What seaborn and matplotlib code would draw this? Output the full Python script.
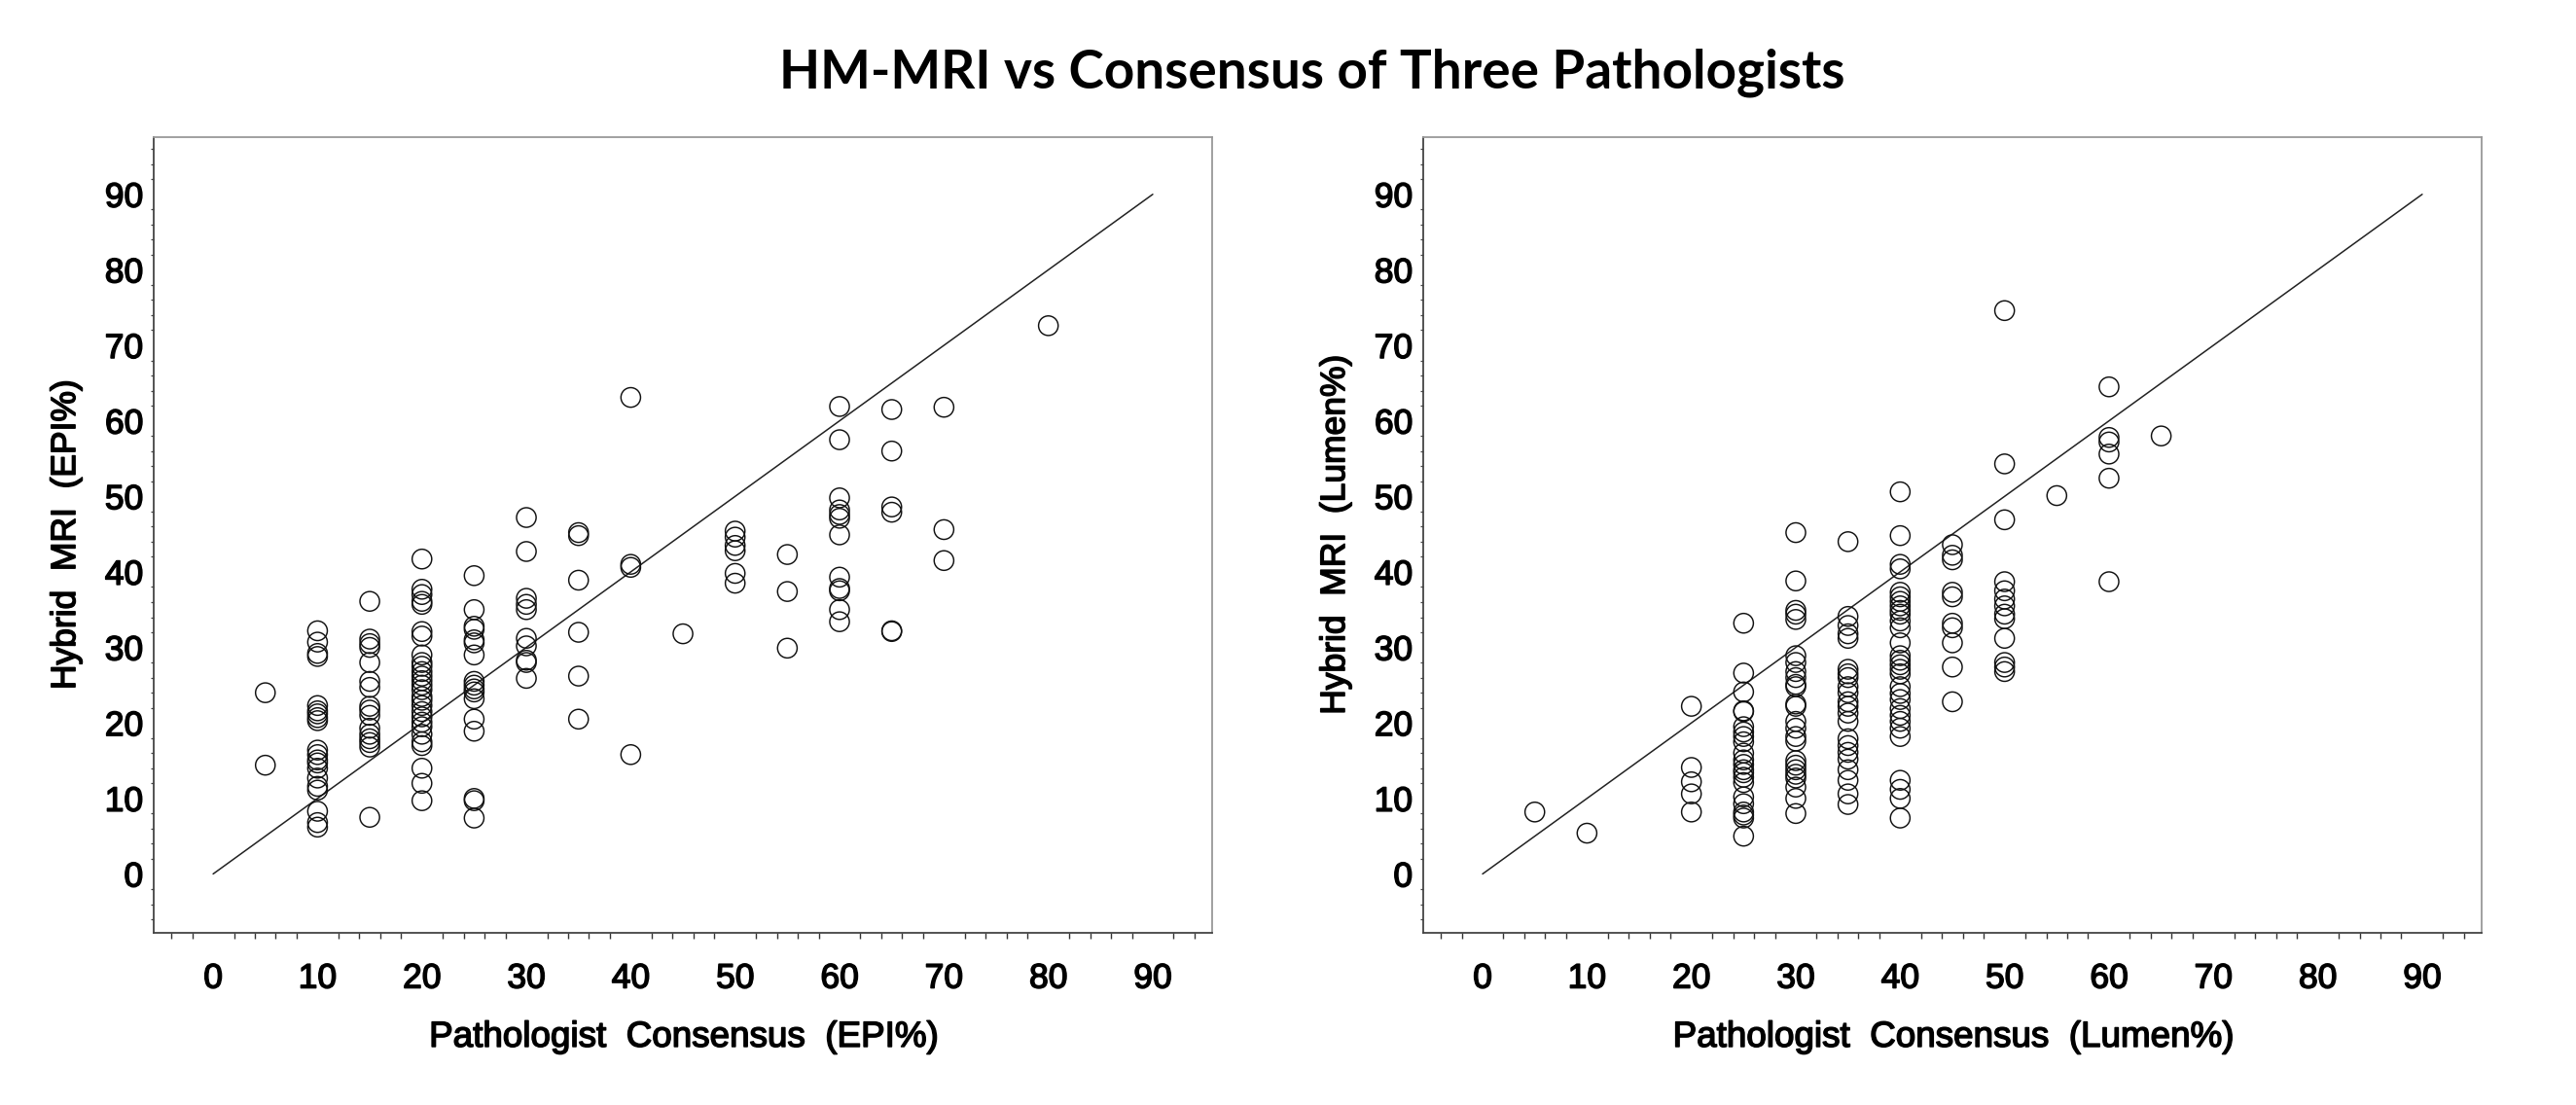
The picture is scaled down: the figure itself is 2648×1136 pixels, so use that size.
import numpy as np
import pandas as pd
import matplotlib
matplotlib.use('Agg')
import matplotlib.pyplot as plt
import matplotlib.patheffects as pe
from matplotlib.ticker import MultipleLocator
import seaborn as sns

# Left panel: pathologist consensus EPI% (x) vs hybrid MRI EPI% (y)
epi_path = ([5] * 2 + [10] * 20 + [15] * 16 + [20] * 28 + [25] * 17 + [30] * 10 + [35] * 6
            + [40] * 4 + [45] * 1 + [50] * 6 + [55] * 3 + [60] * 12 + [65] * 6 + [70] * 3 + [80] * 1)
epi_mri = [
    24.0, 14.4,
    32.2, 30.7, 29.2, 28.8, 22.3, 21.6, 21.2, 20.7, 20.3, 16.4, 15.8, 15.1, 14.7, 14.0, 12.7, 11.6, 11.1, 8.3, 6.8, 6.2,
    36.1, 31.1, 30.5, 30.0, 28.0, 25.5, 24.7, 22.2, 21.7, 21.0, 19.3, 18.5, 17.9, 17.4, 16.8, 7.5,
    41.7, 37.7, 37.0, 36.1, 35.7, 32.1, 31.5, 29.0, 28.0, 27.5, 26.8, 26.2, 25.6, 25.0, 24.4, 23.5, 23.0, 22.3,
    21.5, 20.8, 20.1, 19.5, 18.5, 17.5, 17.0, 14.0, 12.0, 9.7,
    39.5, 35.0, 32.8, 32.4, 31.0, 30.6, 29.0, 25.5, 25.0, 24.5, 24.1, 23.2, 20.5, 18.9, 10.0, 9.7, 7.4,
    47.2, 42.7, 36.5, 35.7, 35.0, 31.2, 30.2, 28.3, 28.0, 25.9,
    45.2, 44.8, 38.9, 32.0, 26.2, 20.5,
    63.1, 41.0, 40.6, 15.8,
    31.8,
    45.4, 44.6, 43.5, 42.8, 39.8, 38.5,
    42.3, 37.4, 29.9,
    61.9, 57.5, 49.8, 48.2, 47.6, 47.1, 44.9, 39.3, 37.8, 37.5, 35.0, 33.4,
    61.5, 56.0, 48.6, 47.9, 32.2, 32.1,
    61.8, 45.6, 41.5,
    72.6,
]

# Right panel: pathologist consensus Lumen% (x) vs hybrid MRI Lumen% (y)
lumen_path = ([5] * 1 + [10] * 1 + [20] * 5 + [25] * 22 + [30] * 25 + [35] * 22 + [40] * 30
              + [45] * 10 + [50] * 13 + [55] * 1 + [60] * 6 + [65] * 1)
lumen_mri = [
    8.2,
    5.4,
    22.2, 14.1, 12.2, 10.6, 8.2,
    33.2, 26.6, 24.1, 21.6, 21.5, 19.5, 18.8, 18.2, 17.5, 16.0, 15.1, 14.5, 13.8, 13.4, 12.8, 12.1, 10.2, 9.3,
    8.2, 7.8, 7.4, 5.0,
    45.2, 38.8, 34.9, 34.4, 33.7, 28.9, 28.0, 26.8, 26.0, 25.1, 24.8, 22.5, 22.2, 20.2, 19.3, 18.2, 17.6, 15.0,
    14.4, 13.8, 13.2, 12.7, 11.5, 10.0, 8.0,
    44.0, 34.1, 32.9, 31.8, 31.2, 27.1, 26.5, 26.0, 24.8, 24.0, 22.8, 22.2, 21.3, 20.2, 17.9, 17.0, 16.1, 15.2,
    13.8, 12.4, 10.6, 9.2,
    50.6, 44.8, 41.0, 40.4, 37.3, 36.7, 36.1, 35.5, 34.9, 34.4, 33.5, 32.6, 30.6, 28.9, 28.3, 27.7, 27.1, 26.5,
    24.8, 23.9, 23.1, 21.9, 21.0, 20.2, 19.3, 18.2, 12.4, 11.2, 10.0, 7.4,
    43.6, 42.2, 41.6, 37.3, 36.7, 33.2, 32.6, 30.6, 27.4, 22.8,
    74.6, 54.3, 46.9, 38.7, 37.5, 36.4, 35.5, 34.4, 33.8, 31.2, 28.0, 27.4, 26.8,
    50.1,
    64.5, 57.8, 57.2, 55.6, 52.4, 38.7,
    58.0,
]

ticks = [0, 10, 20, 30, 40, 50, 60, 70, 80, 90]

sns.set_style('white')
plt.rcParams['font.family'] = ['Liberation Sans', 'DejaVu Sans']
plt.rcParams['text.color'] = 'black'
plt.rcParams['axes.labelcolor'] = 'black'
plt.rcParams['xtick.labelcolor'] = 'black'
plt.rcParams['ytick.labelcolor'] = 'black'

fig = plt.figure(figsize=(26.48, 11.36), dpi=100)
ax1 = fig.add_axes([0.0598, 0.1558, 0.4108, 0.7203])
ax2 = fig.add_axes([0.5526, 0.1558, 0.4108, 0.7203])

panels = [
    (ax1, epi_path, epi_mri, 'Pathologist  Consensus  (EPI%)', 'Hybrid  MRI  (EPI%)'),
    (ax2, lumen_path, lumen_mri, 'Pathologist  Consensus  (Lumen%)', 'Hybrid  MRI  (Lumen%)'),
]

# slightly heavier than regular weight, like the original rendering
heavy = [pe.withStroke(linewidth=1.1, foreground='black')]

for ax, xs, ys, xlab, ylab in panels:
    df = pd.DataFrame({'x': xs, 'y': ys})
    ax.plot([0, 90], [0, 90], color='#222222', lw=1.1, zorder=1)
    sns.scatterplot(data=df, x='x', y='y', ax=ax, marker='o', s=210,
                    facecolors='none', edgecolor='#111111', linewidth=1.05, zorder=2)
    ax.set_xlim(-5.66, 95.7)
    ax.set_ylim(-7.8, 97.6)
    ax.set_xticks(ticks)
    ax.set_yticks(ticks)
    ax.xaxis.set_minor_locator(MultipleLocator(2))
    ax.yaxis.set_minor_locator(MultipleLocator(2))
    ax.tick_params(axis='x', which='major', direction='out', length=8, width=1.3,
                   color='#777777', labelsize=25.5, pad=14)
    ax.tick_params(axis='x', which='minor', direction='out', length=4.3, width=1.0,
                   color='#333333', bottom=True)
    ax.tick_params(axis='y', which='major', direction='out', length=4.1, width=1.0,
                   color='#444444', labelsize=25.5, pad=4)
    ax.tick_params(axis='y', which='minor', direction='out', length=2.4, width=0.9,
                   color='#444444', left=True)
    for lab in ax.get_xticklabels() + ax.get_yticklabels():
        lab.set_path_effects(heavy)
    ax.set_xlabel(xlab, fontsize=26.5, labelpad=19, path_effects=heavy)
    ax.set_ylabel(ylab, fontsize=25.5, labelpad=17, path_effects=heavy)
    for side in ['left', 'bottom']:
        ax.spines[side].set_color('#444444')
        ax.spines[side].set_linewidth(1.3)
    for side in ['top', 'right']:
        ax.spines[side].set_color('#999999')
        ax.spines[side].set_linewidth(1.3)

fig.text(0.5095, 0.934, 'HM-MRI vs Consensus of Three Pathologists', ha='center', va='center',
         fontsize=39.5, fontweight='bold', color='black', family=['Lato', 'DejaVu Sans'])

fig.savefig('out.png', dpi=100, facecolor='white')
